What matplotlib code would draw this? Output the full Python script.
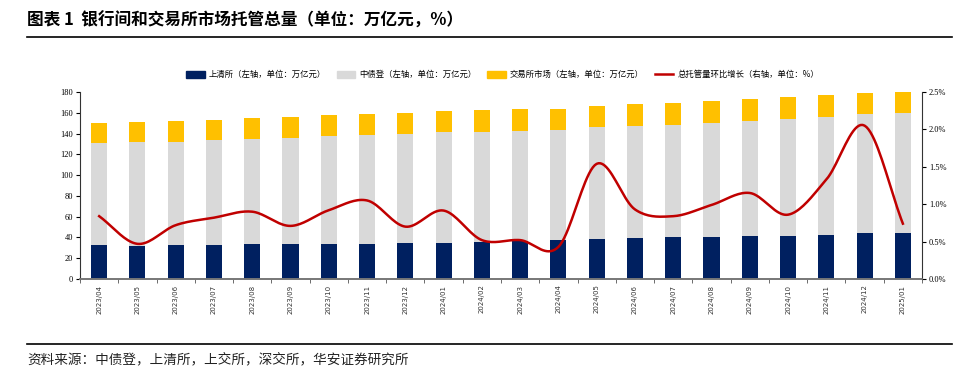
import matplotlib
matplotlib.use("Agg")
import matplotlib.pyplot as plt
from matplotlib.patches import Patch
from matplotlib.lines import Line2D
from matplotlib.ticker import FuncFormatter, MultipleLocator
import numpy as np

plt.rcParams["font.family"] = ["Noto Sans CJK SC", "DejaVu Sans"]

months = ["2023/04", "2023/05", "2023/06", "2023/07", "2023/08", "2023/09", "2023/10",
          "2023/11", "2023/12", "2024/01", "2024/02", "2024/03", "2024/04", "2024/05",
          "2024/06", "2024/07", "2024/08", "2024/09", "2024/10", "2024/11", "2024/12",
          "2025/01"]
# 上清所 (万亿元)
shqs = [32.8, 31.8, 32.8, 32.8, 33.8, 33.8, 33.8, 33.8, 34.7, 34.7, 35.7, 36.6,
        37.6, 38.6, 39.5, 40.5, 40.5, 41.5, 41.5, 42.8, 44.4, 44.4]
# 中债登 (万亿元)
zzd = [98.3, 100.3, 99.3, 101.2, 101.2, 102.2, 104.1, 105.1, 105.1, 107.1, 106.1, 106.1,
       106.1, 108.0, 108.0, 108.0, 109.9, 110.9, 112.8, 113.4, 114.7, 115.7]
# 交易所市场 (万亿元)
jys = [19.3, 19.3, 20.3, 19.3, 20.3, 20.2, 20.2, 20.2, 20.3, 20.2, 21.2, 21.2,
       20.2, 20.2, 21.3, 21.2, 21.2, 21.2, 21.2, 21.2, 20.3, 20.4]
# 总托管量环比增长 (%)
growth = [0.84, 0.47, 0.72, 0.82, 0.90, 0.71, 0.92, 1.05, 0.70, 0.915, 0.52, 0.52,
          0.43, 1.54, 0.93, 0.84, 0.99, 1.15, 0.86, 1.33, 2.05, 0.74]

legend_labels = ["上清所（左轴，单位：万亿元）", "中债登（左轴，单位：万亿元）",
                 "交易所市场（左轴，单位：万亿元）", "总托管量环比增长（右轴，单位：%）"]

NAVY, GRAY, GOLD, RED = "#002060", "#D9D9D9", "#FFC000", "#C00000"


def smooth(xs, ys, n=20):
    # Catmull-Rom curve through the points, like Excel's smoothed line
    xs, ys = np.asarray(xs, float), np.asarray(ys, float)
    px = np.concatenate([[2 * xs[0] - xs[1]], xs, [2 * xs[-1] - xs[-2]]])
    py = np.concatenate([[2 * ys[0] - ys[1]], ys, [2 * ys[-1] - ys[-2]]])
    out_x, out_y = [], []
    t = np.linspace(0, 1, n, endpoint=False)
    for i in range(1, len(px) - 2):
        for p, out in ((px, out_x), (py, out_y)):
            p0, p1, p2, p3 = p[i - 1], p[i], p[i + 1], p[i + 2]
            out.extend(0.5 * (2 * p1 + (-p0 + p2) * t + (2 * p0 - 5 * p1 + 4 * p2 - p3) * t ** 2
                              + (-p0 + 3 * p1 - 3 * p2 + p3) * t ** 3))
    out_x.append(xs[-1])
    out_y.append(ys[-1])
    return np.array(out_x), np.array(out_y)


fig = plt.figure(figsize=(9.76, 3.74), dpi=100)
ax = fig.add_axes([0.082, 0.254, 0.8627, 0.5])
x = np.arange(len(months))
w = 0.42
ax.bar(x, shqs, w, color=NAVY, zorder=2)
ax.bar(x, zzd, w, bottom=shqs, color=GRAY, zorder=2)
ax.bar(x, jys, w, bottom=np.add(shqs, zzd), color=GOLD, zorder=2)
ax.set_xlim(-0.5, len(months) - 0.5)
ax.set_ylim(0, 180)
ax.yaxis.set_major_locator(MultipleLocator(20))

ax2 = ax.twinx()
sx, sy = smooth(x, growth)
ax2.plot(sx, sy, color=RED, lw=1.8, zorder=3)
ax2.set_ylim(0, 2.5)
ax2.yaxis.set_major_locator(MultipleLocator(0.5))
ax2.yaxis.set_major_formatter(FuncFormatter(lambda v, _: f"{v:.1f}%"))

ax.set_xticks(x)
ax.set_xticklabels(months, rotation=90, fontsize=5, color="#333333", family="DejaVu Sans")
ax.set_xticks(np.arange(-0.5, len(months)), minor=True)
ax.tick_params(axis="x", which="major", length=0, pad=4)
ax.tick_params(axis="x", which="minor", length=3, direction="out", color="#555555")
for a in (ax, ax2):
    a.tick_params(axis="y", labelsize=6, length=3, width=0.8, pad=2)
    for lab in a.get_yticklabels():
        lab.set_family("Liberation Serif")
    a.spines["top"].set_visible(False)
    a.spines["left"].set_color("#333333")
    a.spines["right"].set_color("#333333")
    a.spines["bottom"].set_color("#777777")
    a.spines["bottom"].set_linewidth(1.2)
ax2.spines["left"].set_visible(False)
ax.spines["right"].set_visible(False)

handles = [Patch(color=NAVY), Patch(color=GRAY), Patch(color=GOLD),
           Line2D([], [], color=RED, lw=1.8)]
fig.legend(handles, legend_labels, loc="center", bbox_to_anchor=(0.515, 0.8), ncol=4,
           frameon=False, fontsize=6, handlelength=2.2, handleheight=0.8,
           columnspacing=1.3, handletextpad=0.5)

fig.text(0.028, 0.945, "图表 1  银行间和交易所市场托管总量（单位：万亿元，%）",
         fontsize=12, fontweight="bold", va="center")
fig.add_artist(Line2D([0.028, 0.975], [0.902, 0.902], color="black", lw=1.2))
fig.add_artist(Line2D([0.028, 0.975], [0.08, 0.08], color="black", lw=1.2))
fig.text(0.028, 0.038, "资料来源：中债登，上清所，上交所，深交所，华安证券研究所",
         fontsize=9.8, va="center", color="#222222")

fig.savefig("out.png", dpi=100, facecolor="white")
